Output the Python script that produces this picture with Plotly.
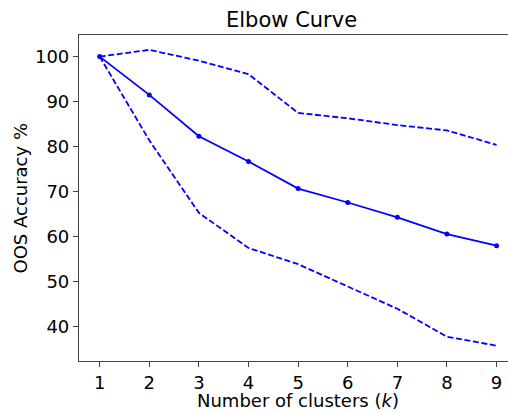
import plotly.graph_objects as go

k = [1, 2, 3, 4, 5, 6, 7, 8, 9]
mean_acc = [100, 91.5, 82.3, 76.7, 70.7, 67.6, 64.3, 60.6, 58.0]
upper_acc = [100, 101.5, 99.1, 96.1, 87.5, 86.3, 84.8, 83.6, 80.4]
lower_acc = [100, 81.4, 65.3, 57.5, 53.9, 49.0, 44.0, 37.8, 35.8]
y_ticks = [40, 50, 60, 70, 80, 90, 100]

blue = "rgb(0,0,255)"
fig = go.Figure()
fig.add_trace(go.Scatter(x=k, y=upper_acc, mode="lines",
                         line=dict(color=blue, width=1.8, dash="6px,2.6px")))
fig.add_trace(go.Scatter(x=k, y=lower_acc, mode="lines",
                         line=dict(color=blue, width=1.8, dash="6px,2.6px")))
fig.add_trace(go.Scatter(x=k, y=mean_acc, mode="lines+markers",
                         line=dict(color=blue, width=1.8),
                         marker=dict(color=blue, size=5)))

font = "DejaVu Sans, sans-serif"
fig.update_layout(
    width=508, height=411,
    margin=dict(l=79, r=0, t=35, b=50, autoexpand=False),
    plot_bgcolor="white", paper_bgcolor="white",
    showlegend=False,
    font=dict(family=font, color="black"),
    annotations=[
        dict(text="Elbow Curve", x=0.495, y=1, xref="paper", yref="paper",
             xanchor="center", yanchor="bottom", yshift=1, showarrow=False,
             font=dict(size=21, family=font)),
        dict(text="Number of clusters (<i>k</i>)", x=0.51, y=0, xref="paper", yref="paper",
             xanchor="center", yanchor="top", yshift=-27, showarrow=False,
             font=dict(size=18, family=font)),
        dict(text="OOS Accuracy %", x=0, y=0.5, xref="paper", yref="paper",
             xanchor="right", yanchor="middle", xshift=-47, textangle=-90, showarrow=False,
             font=dict(size=18, family=font)),
    ],
)
fig.update_xaxes(range=[0.583, 9.23], tickvals=k, showgrid=False, zeroline=False,
                 automargin=False,
                 showline=True, mirror=True, linecolor="#444", linewidth=1.2,
                 ticks="outside", ticklen=5, tickcolor="#444",
                 tickfont=dict(size=18, family=font, color="black"))
fig.update_yaxes(range=[32.4, 104.8], tickvals=y_ticks, showgrid=False, zeroline=False,
                 automargin=False,
                 showline=True, mirror=False, linecolor="#444", linewidth=1.2,
                 ticks="outside", ticklen=5, tickcolor="#444",
                 tickfont=dict(size=18, family=font, color="black"))
fig.write_html("out.html", config={"displayModeBar": False},
               post_script="document.body.style.margin='0';document.body.style.overflow='hidden';")
